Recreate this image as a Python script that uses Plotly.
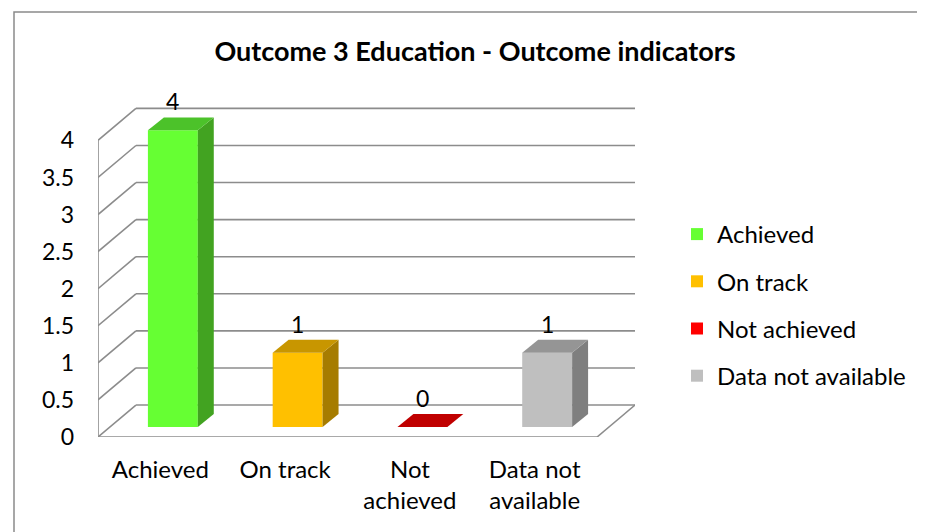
import plotly.graph_objects as go

# ---- data ----
categories = ["Achieved", "On track", "Not achieved", "Data not available"]
tick_text = ["Achieved", "On track", "Not<br>achieved", "Data not<br>available"]
values = [4, 1, 0, 1]
front_colors = ["#66FF33", "#FFC000", "#FF0000", "#BFBFBF"]
side_colors = ["#42A321", "#A67C00", "#A00000", "#7F7F7F"]
top_colors = ["#4CC22A", "#C89600", "#C00000", "#959595"]
y_ticks = [0, 0.5, 1, 1.5, 2, 2.5, 3, 3.5, 4]

# ---- 3D projection params (in axis units) ----
WALL_DX, WALL_DY = 0.304, 0.431      # back wall offset
BAR_OFF_X, BAR_BASE = 0.1, 0.135     # bar front-face offset
BAR_W = 0.4
DEPTH_DX, DEPTH_DY = 0.128, 0.175    # bar depth
FONT = "Lato, Carlito, Calibri, sans-serif"
GRID = "#8C8C8C"

# page offset caused by default body margin
OFF = 8
W, H = 925 - OFF, 532 - OFF
L = 98 - OFF
T = 107 - OFF
B = H - (437 - OFF)
R = W - (635 - OFF)
pw, ph = W - L - R, H - T - B


def px2paper_x(px):
    return (px - OFF - L) / pw


def px2paper_y(py):
    return (H - B - (py - OFF)) / ph


fig = go.Figure()
shapes = []
annotations = []

x_left, x_right = -0.5, len(categories) - 0.5
for v in y_ticks:
    shapes.append(dict(type="line", xref="x", yref="y", layer="below",
                       x0=x_left + WALL_DX, x1=x_right + WALL_DX,
                       y0=v + WALL_DY, y1=v + WALL_DY,
                       line=dict(color=GRID, width=1.6)))
    shapes.append(dict(type="line", xref="x", yref="y", layer="below",
                       x0=x_left, x1=x_left + WALL_DX,
                       y0=v, y1=v + WALL_DY,
                       line=dict(color=GRID, width=1.6)))
shapes.append(dict(type="line", xref="x", yref="y", layer="below",
                   x0=x_left, x1=x_left, y0=0, y1=max(y_ticks),
                   line=dict(color=GRID, width=1.6)))
shapes.append(dict(type="line", xref="x", yref="y", layer="below",
                   x0=x_left, x1=x_right, y0=0, y1=0,
                   line=dict(color=GRID, width=1.6)))
shapes.append(dict(type="line", xref="x", yref="y", layer="below",
                   x0=x_right, x1=x_right + WALL_DX, y0=0, y1=WALL_DY,
                   line=dict(color=GRID, width=1.6)))

for i, (cat, v) in enumerate(zip(categories, values)):
    xc = i + BAR_OFF_X
    fig.add_trace(go.Bar(
        x=[xc], y=[v], base=[BAR_BASE], width=BAR_W, name=cat,
        legendgroup=cat,
        marker=dict(color=front_colors[i], line=dict(width=0)),
        hoverinfo="skip"))
    xl, xr = xc - BAR_W / 2, xc + BAR_W / 2
    yb, yt = BAR_BASE, BAR_BASE + v
    if v > 0:
        side = (f"M{xr},{yb} L{xr + DEPTH_DX},{yb + DEPTH_DY} "
                f"L{xr + DEPTH_DX},{yt + DEPTH_DY} L{xr},{yt} Z")
        shapes.append(dict(type="path", xref="x", yref="y", path=side,
                           fillcolor=side_colors[i], line=dict(width=0),
                           layer="above"))
    top = (f"M{xl},{yt} L{xr},{yt} L{xr + DEPTH_DX},{yt + DEPTH_DY} "
           f"L{xl + DEPTH_DX},{yt + DEPTH_DY} Z")
    shapes.append(dict(type="path", xref="x", yref="y", path=top,
                       fillcolor=top_colors[i], line=dict(width=0),
                       layer="above"))
    annotations.append(dict(x=xc, y=yt + DEPTH_DY,
                            xref="x", yref="y", text=str(v), showarrow=False,
                            yanchor="bottom", xanchor="center",
                            font=dict(family=FONT, size=23, color="black")))

# outer chart border
shapes.append(dict(type="rect", xref="paper", yref="paper", layer="below",
                   x0=px2paper_x(14), x1=px2paper_x(960),
                   y0=px2paper_y(580), y1=px2paper_y(12),
                   line=dict(color="#8A8A8A", width=1.5),
                   fillcolor="rgba(0,0,0,0)"))

fig.update_layout(
    width=W, height=H,
    margin=dict(l=L, r=R, t=T, b=B),
    paper_bgcolor="white", plot_bgcolor="white",
    barmode="overlay",
    font=dict(family=FONT, size=24, color="black"),
    title=dict(text="<b>Outcome 3 Education - Outcome indicators</b>",
               x=(475 - OFF) / W, xanchor="center", y=1 - (52 - OFF) / H,
               yanchor="middle", yref="container",
               font=dict(family=FONT, size=27, color="black")),
    xaxis=dict(range=[x_left, x_right + WALL_DX], tickvals=list(range(len(categories))),
               ticktext=tick_text, showgrid=False, zeroline=False, showline=False,
               ticks="", ticklabelstandoff=16, fixedrange=True,
               tickfont=dict(family=FONT, size=24)),
    yaxis=dict(range=[0, 4.45], tickvals=y_ticks, ticktext=[f"{t:g}" for t in y_ticks],
               showgrid=False, zeroline=False, showline=False, ticks="",
               ticklabelstandoff=23, fixedrange=True,
               tickfont=dict(family=FONT, size=23)),
    legend=dict(x=px2paper_x(677), xanchor="left", y=px2paper_y(212), yanchor="top",
                font=dict(family=FONT, size=24), tracegroupgap=13,
                bgcolor="rgba(0,0,0,0)", itemclick=False),
    shapes=shapes, annotations=annotations,
    showlegend=True,
)

fig.write_html("out.html")
